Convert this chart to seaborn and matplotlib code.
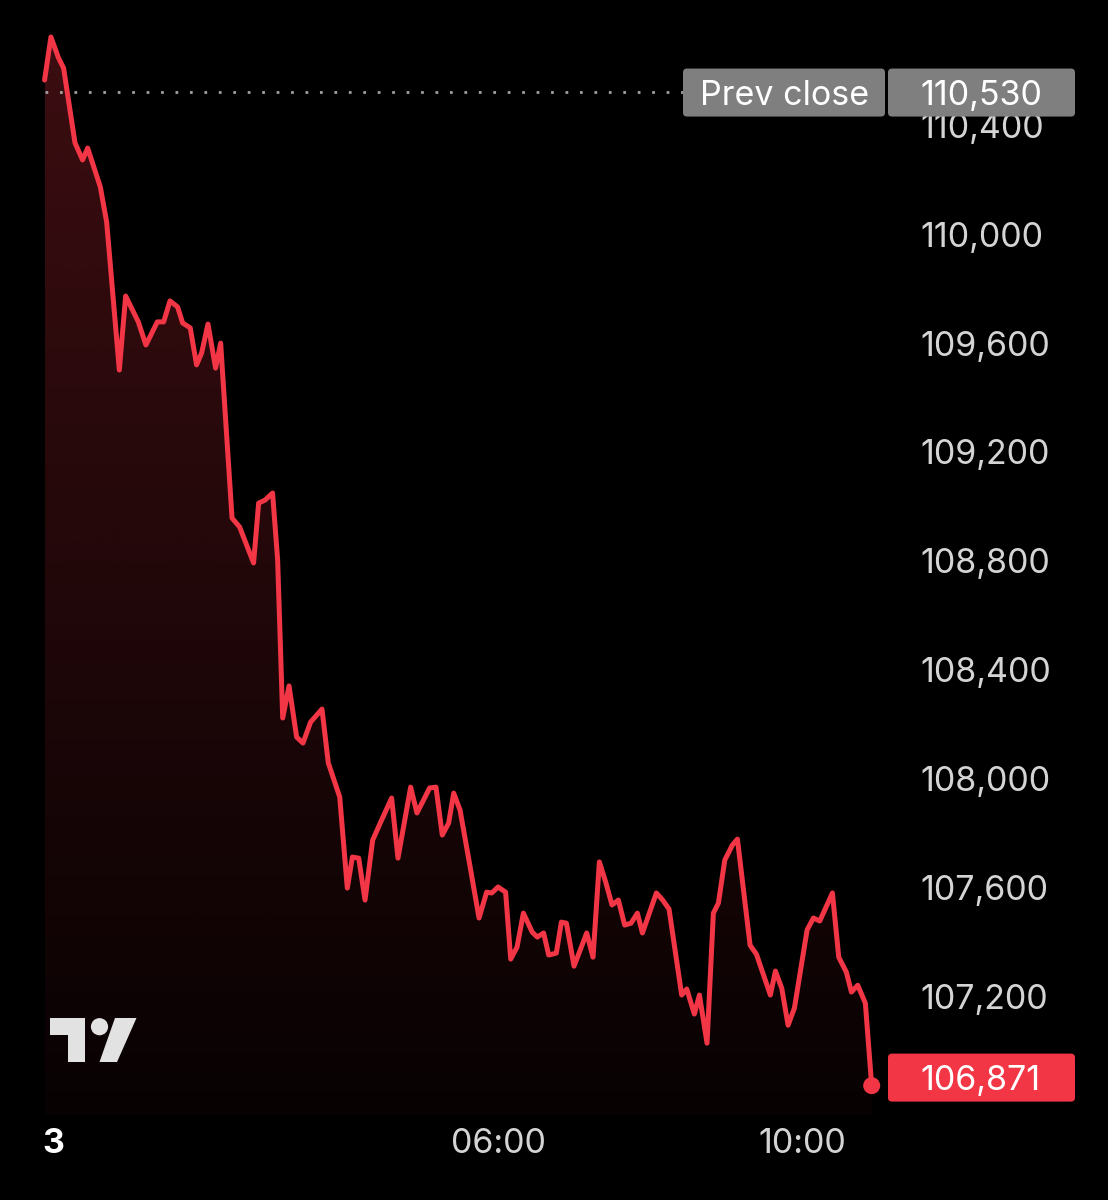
import matplotlib
matplotlib.use("Agg")
import matplotlib.pyplot as plt
import matplotlib.transforms as mtransforms
from matplotlib.colors import to_rgb
from matplotlib.patches import Circle, FancyBboxPatch, Polygon
import numpy as np
import seaborn as sns

# minutes after midnight of day 3, and traded price
minutes = [
    2, 7, 13, 17, 26, 32, 36, 46, 51, 61,
    66, 76, 82, 91, 96, 101, 107, 111, 117, 122,
    126, 131, 137, 141, 150, 156, 167, 171, 176, 182,
    186, 190, 195, 201, 206, 212, 221, 226, 235, 241,
    245, 250, 255, 261, 267, 276, 281, 291, 296, 306,
    311, 316, 321, 325, 330, 338, 345, 351, 355, 360,
    366, 370, 375, 380, 387, 391, 396, 400, 406, 410,
    414, 420, 430, 435, 440, 445, 450, 455, 460, 465,
    470, 474, 485, 490, 495, 505, 509, 515, 519, 525,
    530, 534, 539, 545, 549, 559, 564, 575, 579, 584,
    589, 594, 604, 609, 614, 624, 629, 635, 639, 644,
    650, 655,
]
prices = [
    110567, 110725, 110648, 110611, 110336, 110273, 110317, 110174, 110045, 109501,
    109773, 109678, 109593, 109678, 109678, 109755, 109733, 109674, 109656, 109520,
    109564, 109670, 109508, 109600, 108957, 108924, 108792, 109012, 109023, 109049,
    108803, 108222, 108340, 108152, 108130, 108207, 108255, 108057, 107932, 107597,
    107711, 107707, 107553, 107773, 107836, 107928, 107707, 107968, 107873, 107965,
    107968, 107792, 107836, 107946, 107884, 107674, 107487, 107582, 107579, 107601,
    107582, 107336, 107380, 107505, 107435, 107417, 107432, 107351, 107358, 107472,
    107468, 107310, 107432, 107343, 107693, 107619, 107535, 107553, 107461, 107468,
    107505, 107432, 107579, 107553, 107520, 107204, 107226, 107134, 107204, 107027,
    107505, 107542, 107700, 107755, 107777, 107387, 107354, 107204, 107292, 107229,
    107093, 107156, 107443, 107487, 107476, 107579, 107343, 107288, 107215, 107240,
    107174, 106871,
]
prev_close = 110530
last_price = 106871
ytick_values = [107200, 107600, 108000, 108400, 108800, 109200, 109600, 110000, 110400]
xtick_minutes = [0, 360, 600]
xtick_labels = ["3", "06:00", "10:00"]

RED = "#f23645"
BG = "#000000"
TEXT = "#d4d4d4"
GREY_TAG = "#7f7f7f"
FS = 24.5

sns.set_theme(style="dark")
plt.rcParams.update(
    {
        "figure.facecolor": BG,
        "axes.facecolor": BG,
        "savefig.facecolor": BG,
        "axes.grid": False,
    }
)
plt.rcParams["font.family"] = ["Inter", "DejaVu Sans"]

W, H = 1108, 1200
AX_W, AX_H = 905, 1115
fig = plt.figure(figsize=(W / 100, H / 100), dpi=100)
ax = fig.add_axes([0, (H - AX_H) / H, AX_W / W, AX_H / H])

x_lo, x_hi = -33.2, 681.3
y_lo, y_hi = 106763, 110861
unit = (y_hi - y_lo) / AX_H  # price units per pixel

# gradient area under the line
n = 256
rgba = np.zeros((n, 1, 4))
rgba[..., :3] = to_rgb(RED)
rgba[..., 3] = np.linspace(0.25, 0.035, n)[:, None]
im = ax.imshow(rgba, extent=[min(minutes), max(minutes), y_lo, max(prices)],
               aspect="auto", origin="upper", zorder=1, interpolation="bilinear")
fill = ax.fill_between(minutes, prices, y_lo, facecolor="none", edgecolor="none")
im.set_clip_path(fill.get_paths()[0], ax.transData)

sns.lineplot(x=minutes, y=prices, color=RED, linewidth=3.6, ax=ax, zorder=3)
sns.scatterplot(x=[minutes[-1]], y=[last_price], s=150, color=RED, edgecolor="none",
                ax=ax, zorder=4)

ax.axhline(prev_close - 2 * unit, xmin=45 / AX_W, xmax=683 / AX_W, color="#a0a0a0", lw=2,
           linestyle=(0, (1, 4.2)), zorder=2)

ax.set_xlim(x_lo, x_hi)
ax.set_ylim(y_lo, y_hi)
for s in ax.spines.values():
    s.set_visible(False)

ax.yaxis.tick_right()
ax.set_yticks(ytick_values)
ax.set_yticklabels([f"{v:,}" for v in ytick_values])
ax.tick_params(axis="y", length=0, pad=11, labelsize=FS, labelcolor=TEXT)
ax.set_xticks(xtick_minutes, xtick_labels)
ax.tick_params(axis="x", length=0, pad=9.5, labelsize=FS, labelcolor=TEXT)
first = ax.get_xticklabels()[0]
first.set_fontweight("bold")
first.set_color("white")
first.set_horizontalalignment("left")
ax.set_xlabel("")
ax.set_ylabel("")

# pixel-space helpers (origin top-left)
px = mtransforms.Affine2D().scale(1 / W, -1 / H).translate(0, 1) + fig.transFigure
blend = mtransforms.blended_transform_factory(px, ax.transData)


def tag(x0, x1, centre, color, label, text_x):
    h = 48 * unit
    box = FancyBboxPatch((x0, centre - h / 2), x1 - x0, h,
                         boxstyle="round,pad=0,rounding_size=4", mutation_aspect=unit,
                         transform=blend, facecolor=color, edgecolor="none",
                         clip_on=False, zorder=6)
    ax.add_artist(box)
    ax.text(text_x, centre - 12.5 * unit, label, transform=blend, ha="left", va="baseline",
            color="white", fontsize=FS, clip_on=False, zorder=7)


prev_y = prev_close - 2.5 * unit
tag(683, 885, prev_y, GREY_TAG, "Prev close", 700)
tag(888, 1075, prev_y, GREY_TAG, f"{prev_close:,}", 920)
tag(888, 1075, last_price + 8 * unit, RED, f"{last_price:,}", 920)

# TradingView logo
logo = "#e2e2e2"
fig.add_artist(Polygon([(50, 1018), (85, 1018), (85, 1062), (68, 1062), (68, 1035), (50, 1035)],
                       closed=True, transform=px, facecolor=logo, edgecolor="none"))
fig.add_artist(Circle((99.5, 1026.7), 8.6, transform=px, facecolor=logo, edgecolor="none"))
fig.add_artist(Polygon([(115, 1018), (136.5, 1018), (117, 1062), (99.5, 1062)],
                       closed=True, transform=px, facecolor=logo, edgecolor="none"))

fig.savefig("out.png", dpi=100)
